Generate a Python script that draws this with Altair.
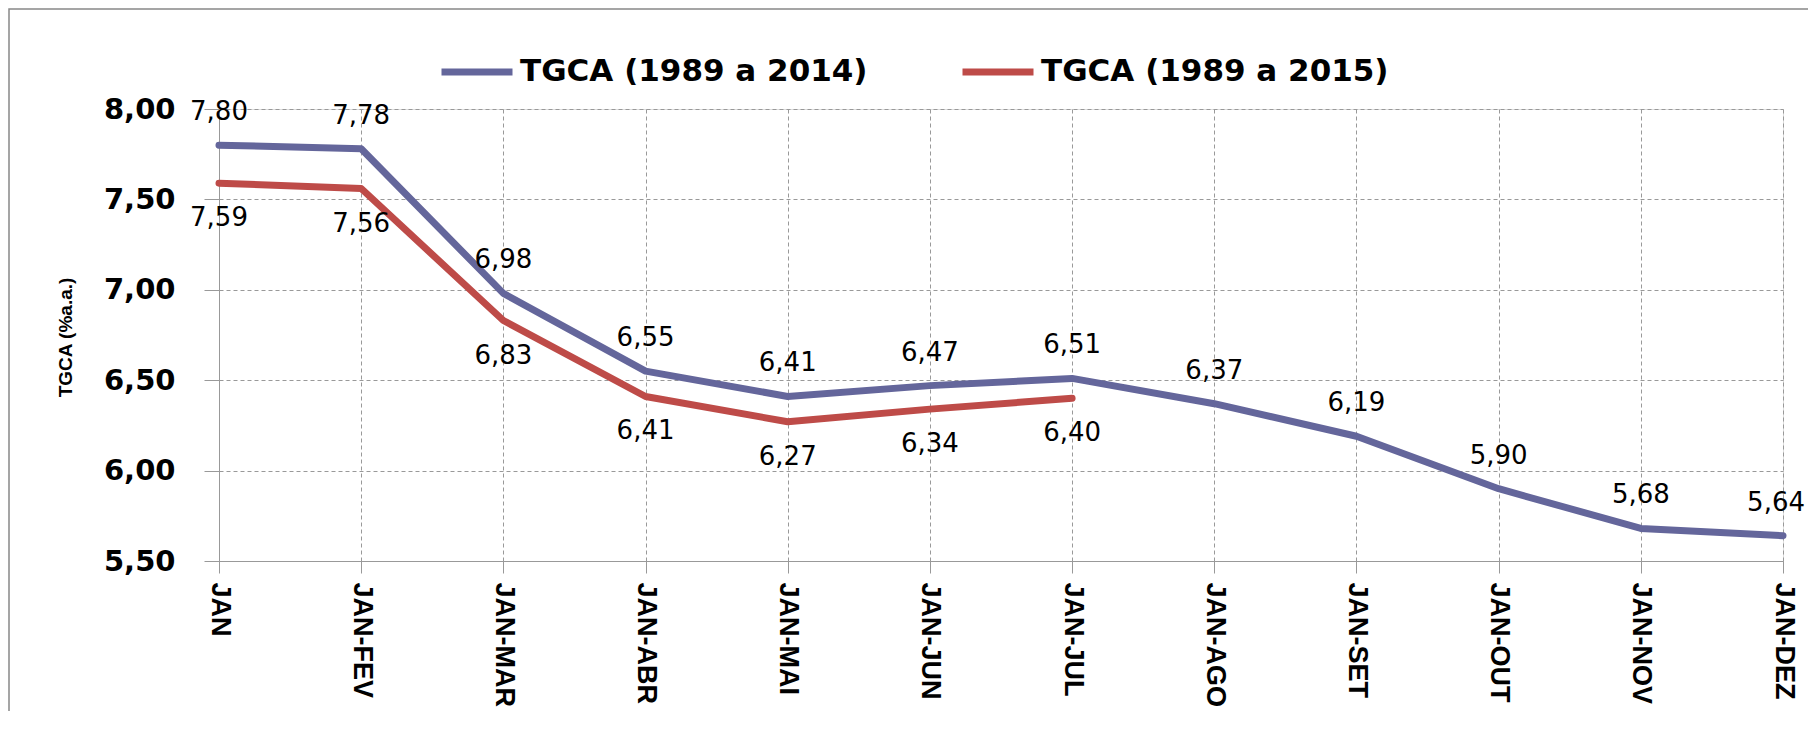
import altair as alt
import pandas as pd

months = ["JAN", "JAN-FEV", "JAN-MAR", "JAN-ABR", "JAN-MAI", "JAN-JUN",
          "JAN-JUL", "JAN-AGO", "JAN-SET", "JAN-OUT", "JAN-NOV", "JAN-DEZ"]
tgca_2014 = [7.80, 7.78, 6.98, 6.55, 6.41, 6.47, 6.51, 6.37, 6.19, 5.90, 5.68, 5.64]
tgca_2015 = [7.59, 7.56, 6.83, 6.41, 6.27, 6.34, 6.40]
series_names = ["TGCA (1989 a 2014)", "TGCA (1989 a 2015)"]
series_colors = ["#64669B", "#BE4B48"]
y_ticks = [5.5, 6.0, 6.5, 7.0, 7.5, 8.0]

rows = []
for m, v in zip(months, tgca_2014):
    rows.append({"mes": m, "valor": v, "serie": series_names[0],
                 "rotulo": f"{v:.2f}".replace(".", ",")})
for m, v in zip(months, tgca_2015):
    rows.append({"mes": m, "valor": v, "serie": series_names[1],
                 "rotulo": f"{v:.2f}".replace(".", ",")})
df = pd.DataFrame(rows)

W, H = 1564, 452
PAD_L, PAD_T = 211, 101
PAD_R = 1800 - PAD_L - W
PAD_B = 150

x_enc = alt.X("mes:N", sort=months,
              scale=alt.Scale(type="point", padding=0),
              axis=alt.Axis(title=None, labelAngle=90, labelAlign="left",
                            labelBaseline="middle", labelFont="Liberation Sans",
                            labelFontWeight="bold", labelFontSize=27,
                            labelColor="#000", tickSize=12, labelPadding=9,
                            tickColor="#999", domainColor="#999",
                            grid=True, gridDash=[4, 3], gridColor="#999",
                            gridWidth=1))
y_enc = alt.Y("valor:Q",
              scale=alt.Scale(domain=[5.5, 8.0], nice=False, zero=False),
              axis=alt.Axis(title="TGCA (%a.a.)", values=y_ticks,
                            labelExpr="replace(format(datum.value, '.2f'), '.', ',')",
                            labelFont="DejaVu Sans", labelFontWeight="bold",
                            labelFontSize=29, labelColor="#000",
                            tickSize=15, labelPadding=29, tickColor="#999",
                            domainColor="#999", grid=True, gridDash=[4, 3],
                            gridColor="#999", gridWidth=1,
                            titleFont="Liberation Sans",
                            titleFontWeight="bold", titleFontSize=19,
                            titleColor="#000", titleAngle=270,
                            titleX=-154, titleY=228, titleAlign="center",
                            titleBaseline="middle"))

color_enc = alt.Color("serie:N",
                      scale=alt.Scale(domain=series_names, range=series_colors),
                      legend=alt.Legend(title=None, orient="none",
                                        legendX=219, legendY=-76,
                                        direction="horizontal", columns=2,
                                        symbolType="stroke",
                                        symbolStrokeWidth=7, symbolSize=5041,
                                        labelFont="DejaVu Sans",
                                        labelFontWeight="bold",
                                        labelFontSize=31, labelColor="#000",
                                        labelOffset=4, columnPadding=80,
                                        labelLimit=500))

lines = alt.Chart(df).mark_line(strokeWidth=7, strokeCap="round",
                                strokeJoin="round").encode(
    x=x_enc, y=y_enc, color=color_enc, detail="serie:N")

labels_top = alt.Chart(df).transform_filter(
    (alt.datum.serie == series_names[0]) & (alt.datum.mes != months[-1])
).mark_text(
    dy=-33, font="DejaVu Sans", fontSize=26, color="#000",
    baseline="middle").encode(
    x=alt.X("mes:N", sort=months), y="valor:Q", text="rotulo:N")

last_top = alt.Chart(df).transform_filter(
    (alt.datum.serie == series_names[0]) & (alt.datum.mes == months[-1])
).mark_text(
    dy=-33, dx=22, font="DejaVu Sans", fontSize=26, color="#000",
    baseline="middle", align="right").encode(
    x=alt.X("mes:N", sort=months), y="valor:Q", text="rotulo:N")

labels_bot = alt.Chart(df).transform_filter(
    alt.datum.serie == series_names[1]).mark_text(
    dy=35, font="DejaVu Sans", fontSize=26, color="#000",
    baseline="middle").encode(
    x=alt.X("mes:N", sort=months), y="valor:Q", text="rotulo:N")

frame = alt.Chart(pd.DataFrame({"k": [0]})).mark_rect(
    fill=None, stroke="#888", strokeWidth=1.5).encode(
    x=alt.value(-PAD_L + 1), x2=alt.value(W + PAD_R + 10),
    y=alt.value(-PAD_T + 1), y2=alt.value(H + PAD_B + 10))

chart = alt.layer(frame, lines, labels_top, last_top, labels_bot).properties(
    width=W, height=H,
    autosize=alt.AutoSizeParams(type="none"),
    padding={"left": PAD_L, "top": PAD_T, "right": PAD_R, "bottom": PAD_B},
).configure_view(stroke=None).configure(background="white")

chart.save("out.html", embed_options={"renderer": "svg", "actions": False})
